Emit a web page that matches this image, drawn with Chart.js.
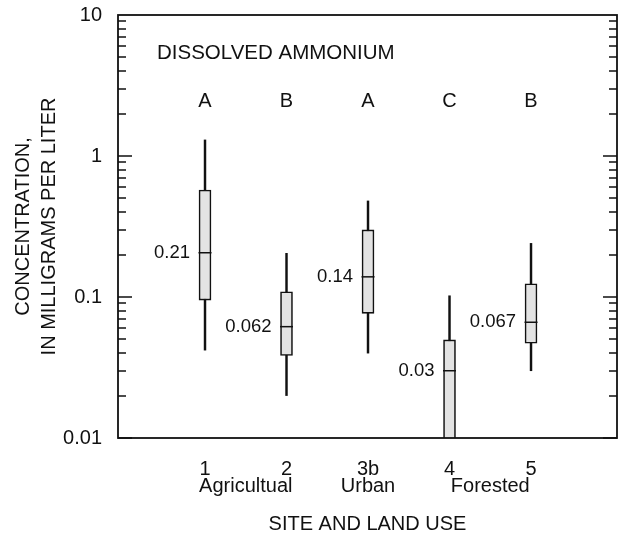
<!DOCTYPE html>
<html>
<head>
<meta charset="utf-8">
<script src="https://cdn.jsdelivr.net/npm/chart.js@4/dist/chart.umd.min.js"></script>
<style>
  body { margin: 0; background: #fff; overflow: hidden; }
  #wrap { width: 621px; height: 535px; }
</style>
</head>
<body>
<div id="wrap"><canvas id="boxChart"></canvas></div>
<script>
// Sites and land use
const sites = ['1', '2', '3b', '4', '5'];
const sitePos = [1, 2, 3, 4, 5];
const landUse = ['Agricultual', 'Urban', 'Forested'];
const landUsePos = [1.5, 3, 4.5];

// Box plot values, mg/L
const whiskerLow = [0.042, 0.020, 0.040, 0.005, 0.030];
const quart1 = [0.095, 0.0385, 0.0766, 0.008, 0.047];
const medians = [0.206, 0.0616, 0.139, 0.030, 0.0662];
const quart3 = [0.574, 0.109, 0.299, 0.0496, 0.124];
const whiskerHigh = [1.30, 0.204, 0.48, 0.102, 0.240];
const medianLabels = ['0.21', '0.062', '0.14', '0.03', '0.067'];
const groupLetters = ['A', 'B', 'A', 'C', 'B'];

const yTicks = [0.01, 0.1, 1, 10];

const FONT = "'Liberation Sans', Arial, Helvetica, sans-serif";
const INK = '#111';

// x tick labels: site number, land use on a second line
const xTicks = [];
sitePos.forEach((p, i) => {
    const j = landUsePos.indexOf(p);
    xTicks.push({ value: p, label: j >= 0 ? [sites[i], landUse[j]] : sites[i] });
});
landUsePos.forEach((p, j) => {
    if (!sitePos.includes(p)) xTicks.push({ value: p, label: ['', landUse[j]] });
});
xTicks.sort((a, b) => a.value - b.value);

// Frame, inward ticks and annotations
const framePlugin = {
    id: 'frame',
    afterDatasetsDraw(chart) {
        const { ctx, chartArea: a, scales: { x, y } } = chart;
        ctx.save();
        ctx.strokeStyle = INK;
        ctx.lineWidth = 1.8;
        ctx.strokeRect(a.left, a.top, a.right - a.left, a.bottom - a.top);

        // log ticks on left and right, pointing in
        ctx.lineWidth = 1.5;
        ctx.beginPath();
        for (let k = 0; k < yTicks.length - 1; k++) {
            for (let m = 1; m <= 9; m++) {
                const v = yTicks[k] * m;
                const py = Math.round(y.getPixelForValue(v));
                const len = m === 1 ? 14 : 8;
                ctx.moveTo(a.left, py); ctx.lineTo(a.left + len, py);
                ctx.moveTo(a.right, py); ctx.lineTo(a.right - len, py);
            }
        }
        ctx.stroke();

        ctx.fillStyle = INK;
        ctx.font = '20.5px ' + FONT;
        ctx.textBaseline = 'middle';
        ctx.textAlign = 'left';
        ctx.fillText('DISSOLVED AMMONIUM', a.left + 39, a.top + 38);

        ctx.font = '20px ' + FONT;
        ctx.textAlign = 'center';
        groupLetters.forEach((t, i) => {
            ctx.fillText(t, x.getPixelForValue(sitePos[i]), a.top + 86);
        });

        ctx.font = '18.5px ' + FONT;
        ctx.textAlign = 'right';
        medianLabels.forEach((t, i) => {
            ctx.fillText(t, x.getPixelForValue(sitePos[i]) - 15, y.getPixelForValue(medians[i]));
        });
        ctx.restore();
    }
};

const ctx = document.getElementById('boxChart').getContext('2d');
new Chart(ctx, {
    type: 'bar',
    data: {
        datasets: [{
            label: 'median',
            type: 'line',
            data: sitePos.map((p, i) => ({ x: p, y: medians[i] })),
            showLine: false,
            pointStyle: 'line',
            pointRadius: 6.5,
            pointBorderWidth: 1.5,
            pointBorderColor: INK,
            order: 0
        }, {
            label: 'box',
            data: sitePos.map((p, i) => ({ x: p, y: [quart1[i], quart3[i]] })),
            backgroundColor: '#e3e3e3',
            borderColor: INK,
            borderWidth: 1.6,
            borderSkipped: false,
            barThickness: 12,
            grouped: false,
            order: 1
        }, {
            label: 'whisker',
            data: sitePos.map((p, i) => ({ x: p, y: [whiskerLow[i], whiskerHigh[i]] })),
            backgroundColor: INK,
            borderWidth: 0,
            barThickness: 1.8,
            grouped: false,
            order: 2
        }]
    },
    options: {
        responsive: true,
        maintainAspectRatio: false,
        animation: false,
        layout: {
            autoPadding: false,
            padding: { top: 15, right: 4, bottom: 0, left: 0 }
        },
        plugins: {
            legend: { display: false },
            tooltip: { enabled: false }
        },
        scales: {
            x: {
                type: 'linear',
                min: -0.0675,
                max: 6.055,
                offset: false,
                grid: { display: false },
                border: { display: false },
                afterBuildTicks: s => { s.ticks = xTicks.map(t => ({ value: t.value })); },
                afterFit: s => {
                    s.height = 97;
                    s.paddingLeft = 0;
                    s.paddingRight = 0;
                },
                ticks: {
                    autoSkip: false,
                    maxRotation: 0,
                    padding: 15,
                    color: INK,
                    font: { family: FONT, size: 20, lineHeight: 0.85 },
                    callback: v => (xTicks.find(t => t.value === v) || {}).label
                },
                title: {
                    display: true,
                    text: 'SITE AND LAND USE',
                    color: INK,
                    font: { family: FONT, size: 20, lineHeight: 1 },
                    padding: { top: 0, bottom: 1 }
                }
            },
            y: {
                type: 'logarithmic',
                min: 0.01,
                max: 10,
                grid: { display: false },
                border: { display: false },
                afterBuildTicks: s => { s.ticks = yTicks.map(v => ({ value: v })); },
                afterFit: s => {
                    s.width = 118;
                    s.paddingTop = 0;
                    s.paddingBottom = 0;
                },
                ticks: {
                    padding: 8,
                    color: INK,
                    font: { family: FONT, size: 20 },
                    callback: v => String(v)
                },
                title: {
                    display: true,
                    text: ['CONCENTRATION,', 'IN MILLIGRAMS PER LITER'],
                    color: INK,
                    font: { family: FONT, size: 20, lineHeight: 1.3 },
                    padding: { top: 10, bottom: 0 }
                }
            }
        }
    },
    plugins: [framePlugin]
});
</script>
</body>
</html>
